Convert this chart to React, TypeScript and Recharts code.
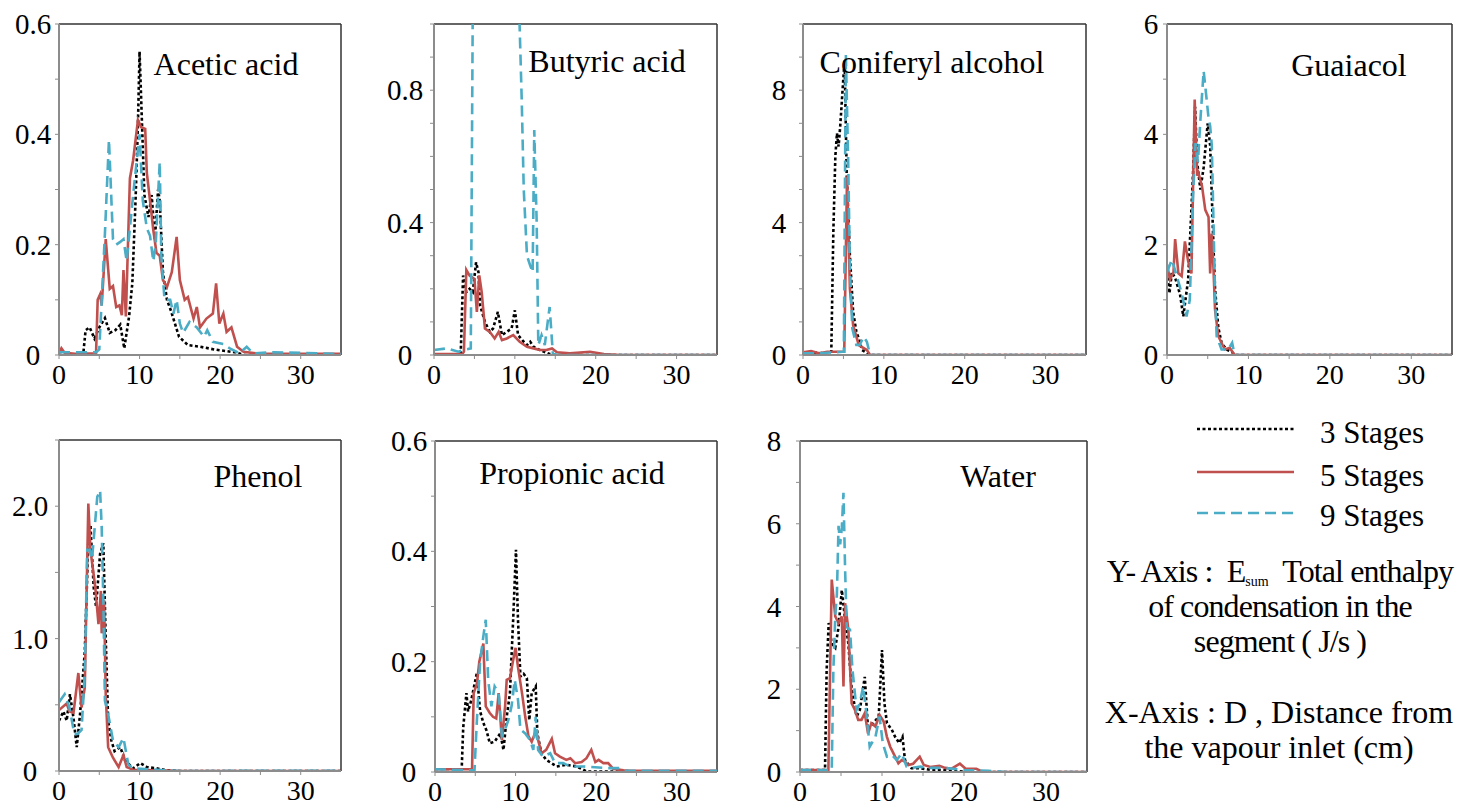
import React from "react";
import { Line, LineChart, ReferenceLine, XAxis, YAxis } from "recharts";

type Pt = [number, number];

const SERIF = '"Liberation Serif", "Times New Roman", serif';

const SERIES = [
  { key: "s3", name: "3 Stages", color: "#000000", dash: "3 2.5" },
  { key: "s5", name: "5 Stages", color: "#C0504D", dash: undefined },
  { key: "s9", name: "9 Stages", color: "#4BACC6", dash: "11 6" },
];

const X_MAX = 35;
const X_TICKS = [0, 5, 10, 15, 20, 25, 30];

// distance (cm) , E_sum (J/s) pairs
const ACETIC_3: Pt[] = [[0,0],[3.0,0],[3.3,0.045],[3.8,0.05],[4.4,0.03],[5.0,0.05],[5.7,0.067],[6.3,0.04],[7.0,0.045],[7.6,0.055],[8.1,0.012],[8.7,0.07],[9.1,0.13],[9.5,0.28],[9.8,0.42],[10.0,0.55],[10.3,0.42],[10.6,0.29],[11.1,0.25],[11.5,0.29],[11.9,0.21],[12.3,0.3],[12.5,0.28],[12.9,0.15],[13.4,0.1],[13.9,0.08],[14.9,0.033],[16,0.018],[17.5,0.015],[19.3,0.01],[21.8,0.005],[23,0],[35,0]];
const ACETIC_5: Pt[] = [[0,0.003],[0.3,0.012],[0.7,0.004],[2,0.002],[4.6,0.003],[4.8,0.1],[5.1,0.11],[5.3,0.09],[5.8,0.21],[6.3,0.12],[6.7,0.125],[7.1,0.087],[7.5,0.09],[7.8,0.072],[8.0,0.154],[8.3,0.07],[8.8,0.32],[9.2,0.353],[9.8,0.426],[10.2,0.413],[10.7,0.41],[10.9,0.33],[11.3,0.28],[11.7,0.227],[12.1,0.185],[12.5,0.18],[12.9,0.136],[13.4,0.123],[14.0,0.15],[14.6,0.214],[15.0,0.136],[15.6,0.1],[16.0,0.105],[16.7,0.066],[17.1,0.087],[17.5,0.05],[18.3,0.066],[19.1,0.075],[19.5,0.13],[19.9,0.057],[20.4,0.075],[20.8,0.042],[21.4,0.05],[22.1,0.015],[22.9,0.006],[25,0.002],[35,0.002]];
const ACETIC_9: Pt[] = [[0,0.005],[4.6,0.005],[5.0,0.01],[5.7,0.22],[6.2,0.39],[6.7,0.21],[7.1,0.2],[7.6,0.205],[8.0,0.21],[8.4,0.17],[8.8,0.23],[9.2,0.29],[10.0,0.4],[10.4,0.28],[10.9,0.23],[11.3,0.216],[11.7,0.17],[12.0,0.2],[12.5,0.35],[12.7,0.18],[13.1,0.1],[13.8,0.1],[14.2,0.075],[14.6,0.1],[15.0,0.057],[15.4,0.04],[16.2,0.06],[17.1,0.05],[18.0,0.033],[18.4,0.045],[19.1,0.024],[20.4,0.02],[21.2,0.012],[22.4,0.003],[23.3,0.015],[24.1,0.003],[26.7,0.005],[35,0.002]];

const BUTYRIC_3: Pt[] = [[0,0],[3.3,0],[3.6,0.24],[4.0,0.19],[4.4,0.2],[4.8,0.19],[5.2,0.28],[5.5,0.25],[5.7,0.15],[6.3,0.1],[6.9,0.07],[7.3,0.08],[7.9,0.13],[8.4,0.06],[9.0,0.07],[9.6,0.08],[10.0,0.135],[10.4,0.06],[11.1,0.04],[11.5,0.03],[11.9,0.04],[12.3,0.025],[13.1,0.015],[14.3,0.003],[15,0],[35,0]];
const BUTYRIC_5: Pt[] = [[0,0.003],[3.5,0.003],[3.7,0.01],[4.0,0.257],[4.4,0.24],[5.0,0.23],[5.3,0.13],[5.6,0.24],[5.9,0.19],[6.3,0.08],[6.9,0.07],[7.5,0.05],[8.0,0.07],[8.4,0.045],[9.0,0.05],[9.8,0.06],[10.6,0.04],[11.5,0.025],[12.3,0.02],[13.1,0.015],[13.9,0.015],[14.6,0.02],[15.2,0.008],[16.8,0.005],[19.3,0.01],[21,0.003],[23,0],[35,0]];
const BUTYRIC_9: Pt[] = [[0,0.015],[1.6,0.02],[3.0,0.01],[3.6,0.015],[4.55,0.02],[4.9,1.5],[10.0,1.5],[10.35,1.2],[10.85,0.77],[11.1,0.5],[11.5,0.3],[11.9,0.27],[12.2,0.25],[12.4,0.68],[12.7,0.4],[12.9,0.03],[13.3,0.06],[13.7,0.03],[14.3,0.145],[14.7,0.005],[15.2,0],[35,0]];

const CONIFERYL_3: Pt[] = [[0,0.05],[1,0.1],[2,0.05],[3.5,0.1],[3.75,3.7],[4.0,6.0],[4.2,6.7],[4.4,6.3],[4.6,6.9],[5.0,8.4],[5.15,8.9],[5.4,5.5],[5.8,3.0],[6.2,1.3],[6.6,0.7],[6.9,0.5],[7.3,0.15],[8.3,0],[35,0]];
const CONIFERYL_5: Pt[] = [[0,0.08],[1,0.12],[2,0.05],[3,0.1],[4.5,0.1],[5.1,0.1],[5.45,5.4],[5.8,2.0],[6.2,0.9],[6.9,0.3],[7.9,0.15],[8.3,0],[35,0]];
const CONIFERYL_9: Pt[] = [[0,0.05],[2,0.05],[4.9,0.1],[5.05,0.1],[5.3,9.1],[5.6,5.7],[5.8,2.7],[6.1,0.8],[6.6,0.3],[7.0,0.3],[7.5,0.55],[7.9,0.4],[8.3,0],[35,0]];

const GUAIACOL_3: Pt[] = [[0,1.5],[0.3,1.12],[0.6,1.5],[1.0,1.4],[1.6,1.1],[2.0,0.7],[2.6,1.37],[3.2,3.3],[3.45,4.5],[3.7,3.5],[4.1,3.0],[4.5,3.4],[5.0,4.2],[5.3,3.8],[5.7,2.0],[5.9,1.2],[6.3,0.5],[6.7,0.22],[7.3,0.1],[8.0,0.05],[8.3,0],[35,0]];
const GUAIACOL_5: Pt[] = [[0,1.64],[0.37,1.37],[0.8,1.5],[1.0,2.1],[1.4,1.48],[1.8,1.43],[2.2,2.06],[2.6,1.7],[3.0,1.48],[3.4,4.63],[3.7,3.25],[3.85,3.3],[4.3,3.06],[4.7,2.63],[5.1,2.5],[5.3,1.48],[5.5,2.2],[5.7,1.6],[5.9,0.82],[6.3,0.34],[7.1,0.1],[7.7,0.13],[8.3,0],[35,0]];
const GUAIACOL_9: Pt[] = [[0,1.5],[0.6,1.73],[1.2,1.43],[1.8,1.12],[2.4,0.7],[2.8,1.0],[3.2,2.9],[3.5,3.84],[3.8,3.5],[4.1,4.26],[4.5,5.15],[4.75,4.8],[5.1,4.3],[5.3,4.15],[5.5,3.8],[5.9,1.12],[6.1,0.34],[6.7,0.1],[7.5,0.1],[8.0,0.22],[8.3,0],[35,0]];

const PHENOL_3: Pt[] = [[0,0.38],[0.55,0.45],[0.95,0.38],[1.36,0.58],[1.8,0.4],[2.2,0.18],[2.6,0.42],[3.2,0.9],[3.64,1.74],[3.9,1.86],[4.3,1.39],[4.6,1.24],[5.1,1.64],[5.5,1.72],[5.8,1.0],[6.1,0.38],[6.5,0.23],[6.9,0.15],[7.6,0.18],[8.2,0.08],[9.2,0.02],[10.1,0.06],[10.9,0.03],[12.1,0.02],[13.4,0.005],[15,0],[35,0]];
const PHENOL_5: Pt[] = [[0,0.46],[0.95,0.51],[1.3,0.45],[1.8,0.44],[2.4,0.74],[2.8,0.48],[3.2,0.63],[3.64,2.02],[3.9,1.67],[4.5,1.39],[4.9,1.11],[5.2,1.36],[5.3,1.04],[5.6,1.29],[5.8,0.58],[6.1,0.18],[6.7,0.1],[7.4,0.03],[8.0,0.12],[8.4,0.03],[9.2,0.01],[13.4,0.004],[15,0],[35,0]];
const PHENOL_9: Pt[] = [[0,0.52],[0.7,0.58],[1.3,0.48],[1.9,0.28],[2.3,0.28],[2.8,0.31],[3.2,0.74],[3.5,1.67],[3.8,1.67],[4.1,1.6],[4.5,1.89],[4.75,2.07],[5.1,2.12],[5.3,1.84],[5.5,1.29],[5.7,0.53],[6.1,0.43],[6.7,0.23],[7.4,0.18],[8.0,0.25],[8.6,0.05],[9.2,0.02],[13.4,0.005],[15,0],[35,0.002]];

const PROPIONIC_3: Pt[] = [[0,0],[3.3,0],[3.5,0.08],[3.9,0.143],[4.1,0.11],[4.5,0.13],[5.2,0.18],[5.6,0.11],[6.0,0.089],[6.4,0.075],[6.8,0.052],[7.4,0.055],[8.1,0.07],[8.5,0.04],[8.9,0.1],[9.3,0.143],[9.7,0.276],[10.05,0.403],[10.3,0.276],[10.6,0.173],[11.0,0.178],[11.4,0.17],[11.7,0.094],[12.0,0.143],[12.5,0.155],[12.7,0.07],[13.2,0.034],[13.8,0.022],[15.1,0.01],[16.3,0.013],[17.6,0.01],[18.8,0.001],[35,0]];
const PROPIONIC_5: Pt[] = [[0,0.005],[4.6,0.005],[4.8,0.143],[5.2,0.16],[5.5,0.2],[6.0,0.233],[6.3,0.119],[6.8,0.107],[7.2,0.1],[7.6,0.097],[7.9,0.143],[8.3,0.058],[8.7,0.119],[8.9,0.167],[9.3,0.17],[9.7,0.203],[10.0,0.225],[10.3,0.19],[10.8,0.143],[11.2,0.1],[11.6,0.065],[12.0,0.055],[12.4,0.07],[12.7,0.065],[13.2,0.034],[13.8,0.04],[14.5,0.06],[14.9,0.034],[15.5,0.028],[16.3,0.022],[16.8,0.025],[17.4,0.016],[18.2,0.018],[18.8,0.025],[19.4,0.04],[19.9,0.018],[20.3,0.022],[20.9,0.016],[21.5,0.016],[22.1,0.006],[23.4,0.003],[24.2,0.002],[35,0.002]];
const PROPIONIC_9: Pt[] = [[0,0.005],[4.9,0.003],[5.2,0.094],[5.6,0.2],[6.0,0.246],[6.3,0.276],[6.6,0.167],[7.0,0.119],[7.4,0.155],[7.9,0.143],[8.3,0.065],[8.7,0.077],[9.1,0.094],[9.5,0.119],[9.9,0.167],[10.3,0.131],[10.6,0.077],[11.2,0.07],[11.8,0.058],[12.2,0.04],[12.5,0.1],[12.8,0.04],[13.4,0.028],[14.3,0.034],[14.9,0.016],[15.9,0.016],[16.8,0.01],[18.4,0.01],[21.3,0.007],[23,0.007],[23.8,0.002],[35,0.002]];

const WATER_3: Pt[] = [[0,0.05],[3.05,0.05],[3.25,2.47],[3.5,3.6],[3.87,3.1],[4.3,3.0],[4.7,3.5],[5.1,4.4],[5.5,3.68],[5.9,3.1],[6.3,2.0],[6.9,1.34],[7.3,1.5],[7.9,2.3],[8.3,1.02],[8.95,1.18],[9.6,1.34],[10.0,2.95],[10.3,1.66],[10.6,1.18],[11.2,1.02],[11.6,0.85],[12.1,0.7],[12.5,0.85],[12.8,0.29],[13.6,0.09],[14.7,0.09],[15.9,0.05],[17.1,0.05],[19,0.02],[21,0],[35,0]];
const WATER_5: Pt[] = [[0,0.05],[3.46,0.05],[3.87,4.65],[4.3,3.76],[4.7,3.6],[5.1,3.76],[5.3,2.07],[5.5,4.08],[5.9,3.44],[6.3,1.66],[6.7,1.5],[7.1,1.26],[7.5,1.26],[7.9,1.42],[8.3,0.93],[8.7,1.18],[9.2,1.1],[9.7,1.38],[10.2,1.22],[10.6,0.85],[11.0,0.61],[11.4,0.45],[12.0,0.21],[12.4,0.29],[12.8,0.25],[13.2,0.17],[13.8,0.2],[14.6,0.37],[15.1,0.17],[15.9,0.12],[17.0,0.15],[17.7,0.1],[18.5,0.08],[19.5,0.2],[20.2,0.08],[21.5,0.08],[22.3,0],[35,0]];
const WATER_9: Pt[] = [[0,0.05],[3.87,0.05],[4.07,2.47],[4.3,3.76],[4.5,4.3],[4.7,5.95],[4.9,5.5],[5.1,5.9],[5.3,6.75],[5.5,4.9],[5.7,3.5],[6.1,3.44],[6.4,2.47],[6.9,1.5],[7.3,1.66],[7.7,2.07],[8.1,1.42],[8.5,0.61],[9.2,0.85],[9.7,1.34],[10.1,0.69],[10.6,0.37],[11.2,0.41],[11.8,0.29],[12.4,0.45],[13.0,0.13],[13.6,0.1],[14.7,0.13],[15.5,0.1],[17.5,0.1],[20,0.05],[23,0.03],[25,0],[35,0]];

// plot boxes in page pixels, label centre x, title anchor
const PANELS = [
  { title: "Acetic acid", series: [ACETIC_3, ACETIC_5, ACETIC_9], box: { l: 59, t: 24, r: 341, b: 355 }, yMax: 0.6, yStep: 0.1, yMajor: [0, 0.2, 0.4, 0.6], dec: 1, labelX: 33, titleX: 226, titleY: 75 },
  { title: "Butyric acid", series: [BUTYRIC_3, BUTYRIC_5, BUTYRIC_9], box: { l: 434, t: 24, r: 717, b: 355 }, yMax: 1.0, yStep: 0.1, yMajor: [0, 0.4, 0.8], dec: 1, labelX: 405, titleX: 607, titleY: 72 },
  { title: "Coniferyl alcohol", series: [CONIFERYL_3, CONIFERYL_5, CONIFERYL_9], box: { l: 803, t: 24, r: 1086, b: 355 }, yMax: 10, yStep: 1, yMajor: [0, 4, 8], dec: 0, labelX: 779, titleX: 932, titleY: 73 },
  { title: "Guaiacol", series: [GUAIACOL_3, GUAIACOL_5, GUAIACOL_9], box: { l: 1167, t: 24, r: 1452, b: 355 }, yMax: 6, yStep: 1, yMajor: [0, 2, 4, 6], dec: 0, labelX: 1151, titleX: 1349, titleY: 76 },
  { title: "Phenol", series: [PHENOL_3, PHENOL_5, PHENOL_9], box: { l: 59, t: 440, r: 341, b: 771 }, yMax: 2.5, yStep: 0.5, yMajor: [0, 1, 2], dec: 1, labelX: 30, titleX: 258, titleY: 487 },
  { title: "Propionic acid", series: [PROPIONIC_3, PROPIONIC_5, PROPIONIC_9], box: { l: 435, t: 441, r: 717, b: 772 }, yMax: 0.6, yStep: 0.1, yMajor: [0, 0.2, 0.4, 0.6], dec: 1, labelX: 409, titleX: 572, titleY: 484 },
  { title: "Water", series: [WATER_3, WATER_5, WATER_9], box: { l: 800, t: 441, r: 1087, b: 772 }, yMax: 8, yStep: 1, yMajor: [0, 2, 4, 6, 8], dec: 0, labelX: 774, titleX: 998, titleY: 487 },
];

const YW = 58;
const MT = 24;
const MR = 6;
const XH = 40;

function Panel({ p }: { p: (typeof PANELS)[number] }) {
  const left = p.box.l - YW;
  const top = p.box.t - MT;
  const width = YW + (p.box.r - p.box.l) + MR;
  const height = MT + (p.box.b - p.box.t) + XH;
  const n = Math.round(p.yMax / p.yStep);
  const yTicks = Array.from({ length: n + 1 }, (_, i) => +(i * p.yStep).toFixed(3));
  const labelX = p.labelX - left;

  const renderYTick = (t: any) => {
    const v = t.payload.value;
    if (!p.yMajor.some((m) => Math.abs(m - v) < 1e-6)) return <g />;
    return (
      <text x={labelX} y={t.y} textAnchor="middle" dominantBaseline="central" fontSize={29} style={{ fontFamily: SERIF }} fill="#000">
        {v === 0 ? "0" : v.toFixed(p.dec)}
      </text>
    );
  };

  return (
    <div style={{ position: "absolute", left, top }}>
      <LineChart width={width} height={height} margin={{ top: MT, right: MR, left: 0, bottom: 0 }} style={{ overflow: "visible" }}>
        <XAxis
          dataKey="x"
          type="number"
          domain={[0, X_MAX]}
          ticks={X_TICKS}
          interval={0}
          allowDataOverflow
          height={XH}
          tickSize={4}
          tickMargin={5}
          tickLine={{ stroke: "#8c8c8c" }}
          axisLine={{ stroke: "#8c8c8c", strokeWidth: 2 }}
          tick={{ fill: "#000", fontSize: 28, style: { fontFamily: SERIF } }}
          tickFormatter={(v: number) => (v % 10 === 0 ? String(v) : "")}
        />
        <YAxis
          type="number"
          domain={[0, p.yMax]}
          ticks={yTicks}
          interval={0}
          allowDataOverflow
          width={YW}
          tickSize={4}
          tickLine={{ stroke: "#8c8c8c" }}
          axisLine={{ stroke: "#8c8c8c", strokeWidth: 2 }}
          tick={renderYTick}
        />
        <ReferenceLine y={p.yMax} stroke="#333" strokeWidth={1.5} />
        <ReferenceLine x={X_MAX} stroke="#333" strokeWidth={1.5} />
        {SERIES.map((s, i) => (
          <Line
            key={s.key}
            name={s.name}
            data={p.series[i].map(([x, y]) => ({ x, y }))}
            dataKey="y"
            type="linear"
            stroke={s.color}
            strokeWidth={2.6}
            strokeDasharray={s.dash}
            dot={false}
            activeDot={false}
            isAnimationActive={false}
          />
        ))}
      </LineChart>
    </div>
  );
}

export default function App() {
  const legendY = [429, 472, 513];
  const legendText = [443, 486, 526];
  return (
    <div style={{ position: "absolute", left: 0, top: 0, width: 1457, height: 807, background: "#fff", overflow: "hidden", fontFamily: SERIF }}>
      {PANELS.map((p) => (
        <Panel key={p.title} p={p} />
      ))}
      <svg width={1457} height={807} style={{ position: "absolute", left: 0, top: 0, pointerEvents: "none", fontFamily: SERIF }}>
        {PANELS.map((p) => (
          <text key={p.title} x={p.titleX} y={p.titleY} textAnchor="middle" fontSize={32} fill="#000">
            {p.title}
          </text>
        ))}
        {SERIES.map((s, i) => (
          <g key={s.key}>
            <line x1={1197} x2={1294} y1={legendY[i]} y2={legendY[i]} stroke={s.color} strokeWidth={2.6} strokeDasharray={s.dash} />
            <text x={1320} y={legendText[i]} fontSize={31} fill="#000">
              {s.name}
            </text>
          </g>
        ))}
        <g fill="#000" textAnchor="middle" fontSize={32} letterSpacing={-0.9}>
          <text x={1280} y={582} xmlSpace="preserve">
            {"Y- Axis :  E"}
            <tspan fontSize={14} dy={4} letterSpacing={0}>sum</tspan>
            <tspan dy={-4}>{"  Total enthalpy"}</tspan>
          </text>
          <text x={1280} y={617}>of condensation in the</text>
          <text x={1280} y={652}>segment ( J/s )</text>
        </g>
        <g fill="#000" textAnchor="middle" fontSize={32}>
          <text x={1279} y={723}>X-Axis : D , Distance from</text>
          <text x={1279} y={758}>the vapour inlet (cm)</text>
        </g>
      </svg>
    </div>
  );
}
